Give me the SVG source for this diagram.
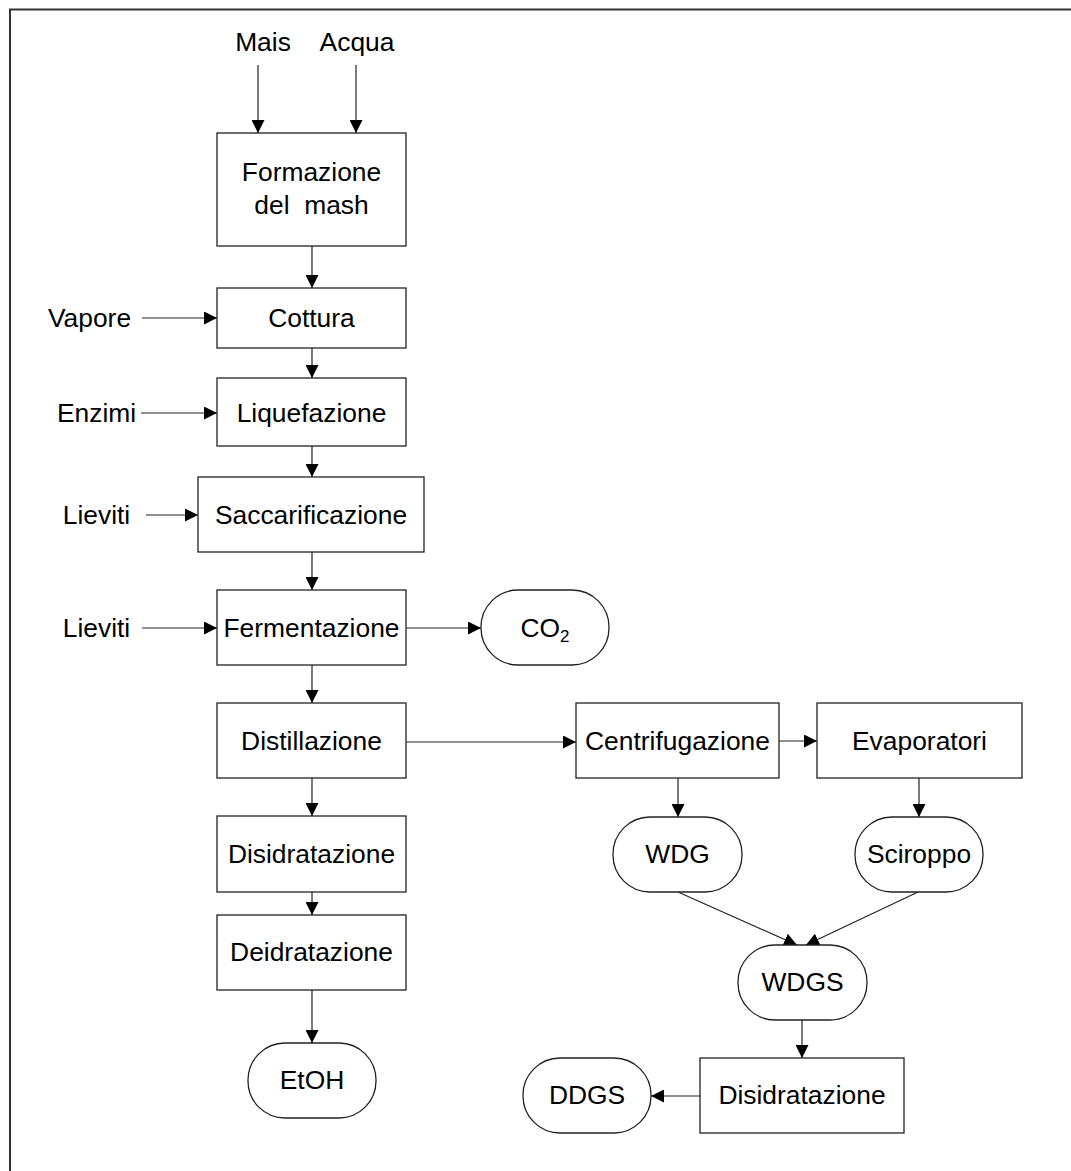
<svg xmlns="http://www.w3.org/2000/svg" width="1071" height="1171" viewBox="0 0 1071 1171">
<style>
.b{fill:#fff;stroke:#222;stroke-width:1.3}
.t{font-family:"Liberation Sans",Arial,sans-serif;font-size:26.4px;fill:#000;text-anchor:middle}
.c{stroke:#222;stroke-width:1.2;fill:none;marker-end:url(#ah)}
</style>
<defs>
<marker id="ah" viewBox="0 0 13 13" refX="13" refY="6.5" markerWidth="13" markerHeight="13" markerUnits="userSpaceOnUse" orient="auto">
<path d="M0,0 L13,6.5 L0,13 Z" fill="#000"/>
</marker>
</defs>
<rect width="1071" height="1171" fill="#fff"/>
<path d="M10,1171 V9.5 H1071" fill="none" stroke="#333" stroke-width="2"/>
<g id="connectors">
<line class="c" x1="258" y1="65" x2="258" y2="133"/>
<line class="c" x1="356" y1="65" x2="356" y2="133"/>
<line class="c" x1="312" y1="246" x2="312" y2="288"/>
<line class="c" x1="142" y1="318" x2="217" y2="318"/>
<line class="c" x1="312" y1="348" x2="312" y2="378"/>
<line class="c" x1="141" y1="413" x2="217" y2="413"/>
<line class="c" x1="312" y1="446" x2="312" y2="477"/>
<line class="c" x1="146" y1="515" x2="198" y2="515"/>
<line class="c" x1="312" y1="552" x2="312" y2="590"/>
<line class="c" x1="142" y1="628" x2="217" y2="628"/>
<line class="c" x1="406" y1="628" x2="481" y2="628"/>
<line class="c" x1="312" y1="665" x2="312" y2="703"/>
<line class="c" x1="406" y1="742" x2="576" y2="742"/>
<line class="c" x1="312" y1="778" x2="312" y2="816"/>
<line class="c" x1="312" y1="892" x2="312" y2="915"/>
<line class="c" x1="312" y1="990" x2="312" y2="1043"/>
<line class="c" x1="779" y1="741" x2="817" y2="741"/>
<line class="c" x1="678" y1="778" x2="678" y2="817"/>
<line class="c" x1="919" y1="778" x2="919" y2="817"/>
<line class="c" x1="678" y1="892" x2="797" y2="945"/>
<line class="c" x1="918" y1="892" x2="806" y2="945"/>
<line class="c" x1="802" y1="1020" x2="802" y2="1058"/>
<line class="c" x1="700" y1="1096" x2="651" y2="1096"/>
</g>
<g id="input-mais"><text class="t" x="263" y="51">Mais</text></g>
<g id="input-acqua"><text class="t" x="357" y="51">Acqua</text></g>
<g id="input-vapore"><text class="t" x="89.5" y="327">Vapore</text></g>
<g id="input-enzimi"><text class="t" x="96.5" y="422">Enzimi</text></g>
<g id="input-lieviti1"><text class="t" x="96.5" y="524">Lieviti</text></g>
<g id="input-lieviti2"><text class="t" x="96.5" y="637">Lieviti</text></g>
<g id="formazione"><rect class="b" x="217" y="133" width="189" height="113"/><text class="t" x="311.5" y="181">Formazione</text><text class="t" x="311.5" y="214" xml:space="preserve">del  mash</text></g>
<g id="cottura"><rect class="b" x="217" y="288" width="189" height="60"/><text class="t" x="311.5" y="327">Cottura</text></g>
<g id="liquefazione"><rect class="b" x="217" y="378" width="189" height="68"/><text class="t" x="311.5" y="422">Liquefazione</text></g>
<g id="saccarificazione"><rect class="b" x="198" y="477" width="226" height="75"/><text class="t" x="311" y="524">Saccarificazione</text></g>
<g id="fermentazione"><rect class="b" x="217" y="590" width="189" height="75"/><text class="t" x="311.5" y="637">Fermentazione</text></g>
<g id="co2"><rect class="b" x="481" y="590" width="128" height="75" rx="37" ry="37"/><text class="t" x="545" y="637">CO<tspan font-size="17" dy="5">2</tspan></text></g>
<g id="distillazione"><rect class="b" x="217" y="703" width="189" height="75"/><text class="t" x="311.5" y="750">Distillazione</text></g>
<g id="disidratazione1"><rect class="b" x="217" y="816" width="189" height="76"/><text class="t" x="311.5" y="863">Disidratazione</text></g>
<g id="deidratazione"><rect class="b" x="217" y="915" width="189" height="75"/><text class="t" x="311.5" y="961">Deidratazione</text></g>
<g id="etoh"><rect class="b" x="248" y="1043" width="128" height="75" rx="37" ry="37"/><text class="t" x="312" y="1089">EtOH</text></g>
<g id="centrifugazione"><rect class="b" x="576" y="703" width="203" height="75"/><text class="t" x="677.5" y="750">Centrifugazione</text></g>
<g id="evaporatori"><rect class="b" x="817" y="703" width="205" height="75"/><text class="t" x="919.5" y="750">Evaporatori</text></g>
<g id="wdg"><rect class="b" x="613" y="817" width="129" height="75" rx="37" ry="37"/><text class="t" x="677.5" y="863">WDG</text></g>
<g id="sciroppo"><rect class="b" x="855" y="817" width="128" height="75" rx="37" ry="37"/><text class="t" x="919" y="863">Sciroppo</text></g>
<g id="wdgs"><rect class="b" x="738" y="945" width="129" height="75" rx="37" ry="37"/><text class="t" x="802.5" y="991">WDGS</text></g>
<g id="disidratazione2"><rect class="b" x="700" y="1058" width="204" height="75"/><text class="t" x="802" y="1104">Disidratazione</text></g>
<g id="ddgs"><rect class="b" x="523" y="1058" width="128" height="75" rx="37" ry="37"/><text class="t" x="587" y="1104">DDGS</text></g>
</svg>
